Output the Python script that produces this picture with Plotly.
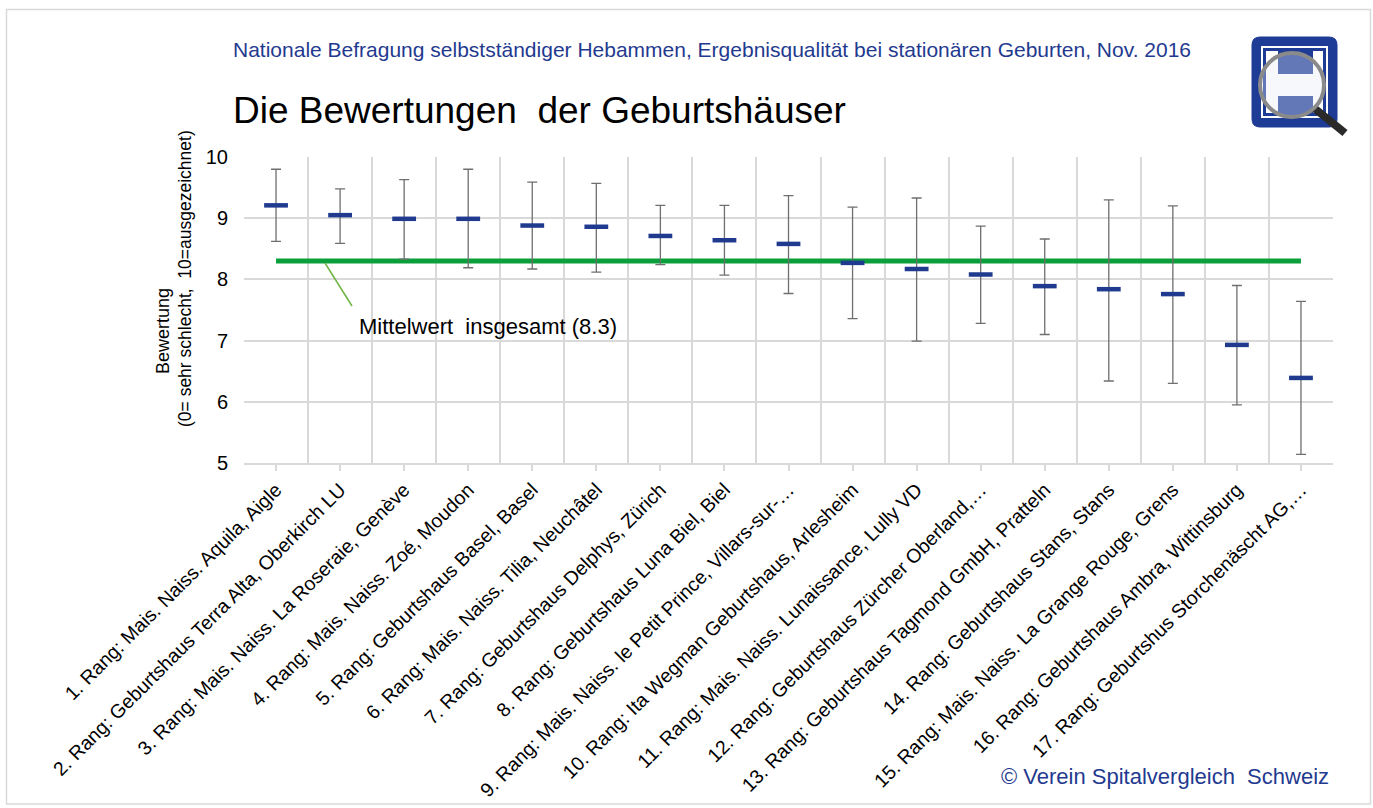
import plotly.graph_objects as go

labels = [
    "1. Rang: Mais. Naiss. Aquila, Aigle",
    "2. Rang: Geburtshaus Terra Alta, Oberkirch LU",
    "3. Rang: Mais. Naiss. La Roseraie, Genève",
    "4. Rang: Mais. Naiss. Zoé, Moudon",
    "5. Rang: Geburtshaus Basel, Basel",
    "6. Rang: Mais. Naiss. Tilia, Neuchâtel",
    "7. Rang: Geburtshaus Delphys, Zürich",
    "8. Rang: Geburtshaus Luna Biel, Biel",
    "9. Rang: Mais. Naiss. le Petit Prince, Villars-sur-…",
    "10. Rang: Ita Wegman Geburtshaus, Arlesheim",
    "11. Rang: Mais. Naiss. Lunaissance, Lully VD",
    "12. Rang: Geburtshaus Zürcher Oberland,…",
    "13. Rang: Geburtshaus Tagmond GmbH, Pratteln",
    "14. Rang: Geburtshaus Stans, Stans",
    "15. Rang: Mais. Naiss. La Grange Rouge, Grens",
    "16. Rang: Geburtshaus Ambra, Wittinsburg",
    "17. Rang: Geburtshus Storchenäscht AG,…",
]
means = [9.21, 9.05, 8.99, 8.99, 8.88, 8.86, 8.71, 8.64, 8.58, 8.27, 8.17, 8.08, 7.89, 7.84, 7.76, 6.93, 6.39]
upper = [9.80, 9.48, 9.63, 9.80, 9.59, 9.57, 9.21, 9.21, 9.37, 9.18, 9.33, 8.87, 8.66, 9.30, 9.20, 7.90, 7.64]
lower = [8.62, 8.59, 8.33, 8.19, 8.17, 8.12, 8.24, 8.07, 7.77, 7.36, 6.99, 7.28, 7.10, 6.34, 6.30, 5.95, 5.14]
overall_mean = 8.3
y_ticks = [5, 6, 7, 8, 9, 10]

xpos = list(range(len(labels)))
BLUE = "#1F3A8F"
FONT = "Arial, Liberation Sans, sans-serif"

# figure geometry
W, H = 1373, 808
L, R, T, B = 244, 40, 157, 345
pw, ph = W - L - R, H - T - B


def px(x):
    return (x - L) / pw


def py(y):
    return (H - B - y) / ph


fig = go.Figure()

fig.add_trace(go.Scatter(
    x=[xpos[0], xpos[-1]], y=[overall_mean, overall_mean], mode="lines",
    line=dict(color="#0A9F3B", width=5), hoverinfo="skip", showlegend=False,
))

fig.add_trace(go.Scatter(
    x=xpos, y=means, mode="markers",
    marker=dict(symbol="line-ew", size=17, line=dict(color=BLUE, width=4.5)),
    error_y=dict(type="data", symmetric=False,
                 array=[u - m for u, m in zip(upper, means)],
                 arrayminus=[m - l for m, l in zip(means, lower)],
                 color="#6f6f6f", thickness=1.3, width=5),
    showlegend=False,
))

LOGO_BLUE = "#1E3C96"
shapes = [
    # outer border
    dict(type="rect", xref="paper", yref="paper", x0=px(6.5), x1=px(1370.5), y0=py(804), y1=py(9.5),
         line=dict(color="#d9d9d9", width=1.5), fillcolor="rgba(0,0,0,0)", layer="below"),
    # annotation leader
    dict(type="line", xref="paper", yref="paper", x0=px(325), y0=py(263), x1=px(352), y1=py(306),
         line=dict(color="#70B443", width=1.5)),
    # logo
    dict(type="path", xref="paper", yref="paper",
         path="M {a},{t} L {b},{t} Q {r},{t} {r},{u} L {r},{v} Q {r},{bt} {b},{bt} L {a},{bt} Q {l},{bt} {l},{v} L {l},{u} Q {l},{t} {a},{t} Z".format(
             l=px(1252), r=px(1337), a=px(1260), b=px(1329), t=py(37), bt=py(127), u=py(45), v=py(119)),
         line=dict(color=LOGO_BLUE, width=1), fillcolor=LOGO_BLUE),
    dict(type="rect", xref="paper", yref="paper", x0=px(1262), x1=px(1327), y0=py(117), y1=py(47),
         line=dict(color="white", width=2), fillcolor=LOGO_BLUE),
    dict(type="rect", xref="paper", yref="paper", x0=px(1266), x1=px(1278), y0=py(113), y1=py(51),
         line=dict(width=0), fillcolor="white"),
    dict(type="rect", xref="paper", yref="paper", x0=px(1313), x1=px(1323), y0=py(113), y1=py(51),
         line=dict(width=0), fillcolor="white"),
    dict(type="rect", xref="paper", yref="paper", x0=px(1266), x1=px(1323), y0=py(96), y1=py(74),
         line=dict(width=0), fillcolor="white"),
    dict(type="line", xref="paper", yref="paper", x0=px(1314), y0=py(108), x1=px(1345), y1=py(133),
         line=dict(color="#2a2a2a", width=8)),
    dict(type="circle", xref="paper", yref="paper", x0=px(1260), x1=px(1324), y0=py(117), y1=py(53),
         line=dict(color="#8a8a8a", width=4), fillcolor="rgba(230,235,245,0.35)"),
]

annotations = [
    dict(text="Nationale Befragung selbstständiger Hebammen, Ergebnisqualität bei stationären Geburten, Nov. 2016",
         xref="paper", yref="paper", x=px(231), y=py(50), xanchor="left", yanchor="middle",
         showarrow=False, font=dict(family=FONT, size=21, color=BLUE)),
    dict(text="Die Bewertungen  der Geburtshäuser", xref="paper", yref="paper", x=px(231), y=py(110),
         xanchor="left", yanchor="middle", showarrow=False, font=dict(family=FONT, size=37, color="black")),
    dict(text="Bewertung", xref="paper", yref="paper",
         x=px(163), y=py(331), xanchor="center", yanchor="middle", textangle=-90, showarrow=False,
         font=dict(family=FONT, size=18, color="black")),
    dict(text="(0= sehr schlecht,  10=ausgezeichnet)", xref="paper", yref="paper",
         x=px(185), y=py(279), xanchor="center", yanchor="middle", textangle=-90, showarrow=False,
         font=dict(family=FONT, size=17.5, color="black")),
    dict(text="Mittelwert  insgesamt (8.3)", xref="paper", yref="paper", x=px(357), y=py(326),
         xanchor="left", yanchor="middle", showarrow=False, font=dict(family=FONT, size=22, color="black")),
    dict(text="© Verein Spitalvergleich  Schweiz", xref="paper", yref="paper", x=px(1331), y=py(776),
         xanchor="right", yanchor="middle", showarrow=False, font=dict(family=FONT, size=22, color=BLUE)),
]

fig.update_layout(
    width=W, height=H, autosize=False,
    margin=dict(l=L, r=R, t=T, b=B, autoexpand=False),
    paper_bgcolor="white", plot_bgcolor="white",
    font=dict(family=FONT, color="black"),
    shapes=shapes, annotations=annotations,
    xaxis=dict(
        range=[-0.5, len(labels) - 0.5], tickmode="array", tickvals=xpos, ticktext=labels,
        tickangle=-45, tickfont=dict(size=19.5, family=FONT, color="black"),
        showgrid=False, zeroline=False, showline=True, linecolor="#d9d9d9", linewidth=1.5,
        ticks="outside", ticklen=6, tickcolor="#d9d9d9", tickwidth=1.5, automargin=False,
        minor=dict(tickmode="array", tickvals=[i - 0.5 for i in range(len(labels) + 1)],
                   showgrid=True, gridcolor="#d9d9d9", gridwidth=1.5, ticks=""),
        fixedrange=True,
    ),
    yaxis=dict(
        range=[5, 10], tickmode="array", tickvals=y_ticks, tickfont=dict(size=20, family=FONT, color="black"),
        showgrid=True, gridcolor="#d9d9d9", gridwidth=1.5, zeroline=False, showline=False,
        ticks="", ticklabelstandoff=15, fixedrange=True, automargin=False,
    ),
)

fig.write_html("out.html", config={"displayModeBar": False},
               post_script="document.body.style.margin='0';document.body.style.padding='0';")
